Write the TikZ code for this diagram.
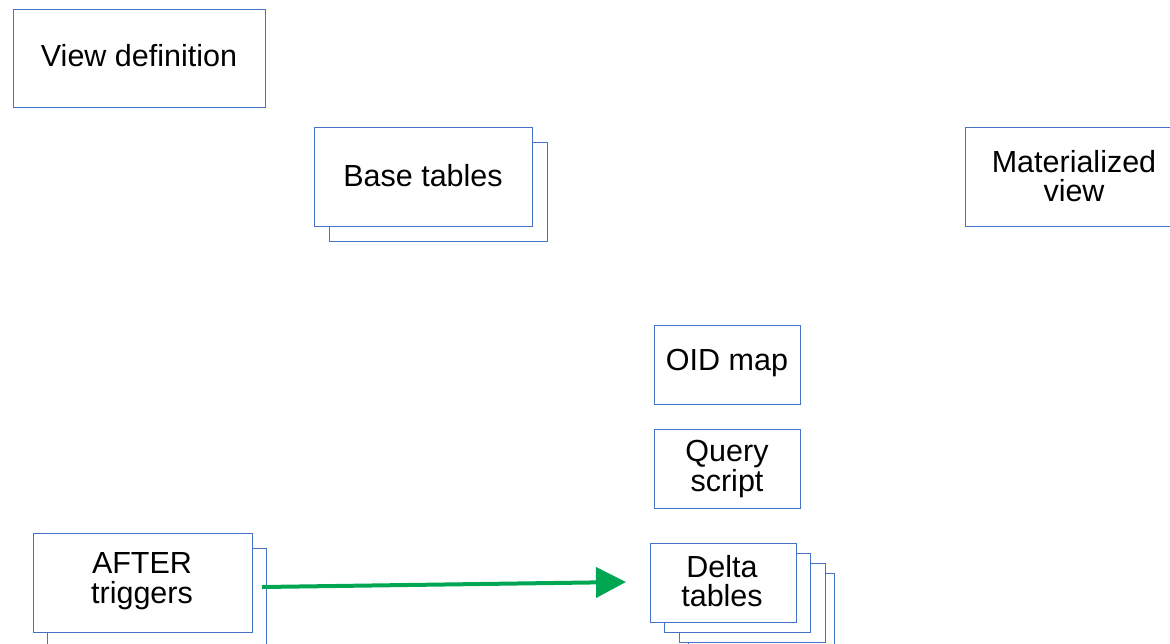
\documentclass[tikz,border=0pt]{standalone}
\usepackage{fontspec}
\setmainfont{Liberation Sans}
\usetikzlibrary{arrows.meta}
\definecolor{boxblue}{HTML}{4472C4}
\definecolor{flowgreen}{HTML}{00A651}
\begin{document}
\begin{tikzpicture}[x=1pt,y=-1pt,
  box/.style={draw=boxblue, line width=1.1pt, fill=white, inner sep=0pt, anchor=north west},
  label/.style={align=center, inner sep=0pt, font=\fontsize{30.5}{29.5}\selectfont},
  flow/.style={draw=flowgreen, line width=4pt, -{Triangle[length=30pt,width=30pt]}}]
\useasboundingbox (0,0) rectangle (1170,643);

% view definition
\node[box, minimum width=252pt, minimum height=98pt] (viewdef) at (13,9) {};
\node[label] at (139,56) {View definition};

% base tables (stack of two sheets)
\node[box, minimum width=218pt, minimum height=99pt] (baseback) at (329,142) {};
\node[box, minimum width=218pt, minimum height=99pt] (base) at (314,127) {};
\node[label] at (423,176) {Base tables};

% materialized view
\node[box, minimum width=218pt, minimum height=99pt] (matview) at (965,127) {};
\node[label] at (1074,176) {Materialized\\view};

% OID map and query script
\node[box, minimum width=146pt, minimum height=79pt] (oid) at (654,325) {};
\node[label] at (727,363) {OID map};
\node[box, minimum width=146pt, minimum height=79pt] (query) at (654,429) {};
\node[label] at (727,469) {Query\\script};

% delta tables (stack of four sheets)
\node[box, minimum width=146pt, minimum height=79pt] (delta4) at (688,573) {};
\node[box, minimum width=146pt, minimum height=79pt] (delta3) at (679,563) {};
\node[box, minimum width=146pt, minimum height=79pt] (delta2) at (664,553) {};
\node[box, minimum width=146pt, minimum height=79pt] (delta) at (650,543) {};
\node[label] at (722,581) {Delta\\tables};

% after triggers (stack of two sheets)
\node[box, minimum width=219pt, minimum height=99pt] (afterback) at (47,548) {};
\node[box, minimum width=219pt, minimum height=99pt] (after) at (33,533) {};
\node[label] at (142,581) {AFTER\\triggers};

% change flow into the delta tables
\coordinate (flowstart) at (262,587);
\coordinate (flowend) at (626,582);
\draw[flow] (flowstart) -- (flowend);
\end{tikzpicture}
\end{document}
